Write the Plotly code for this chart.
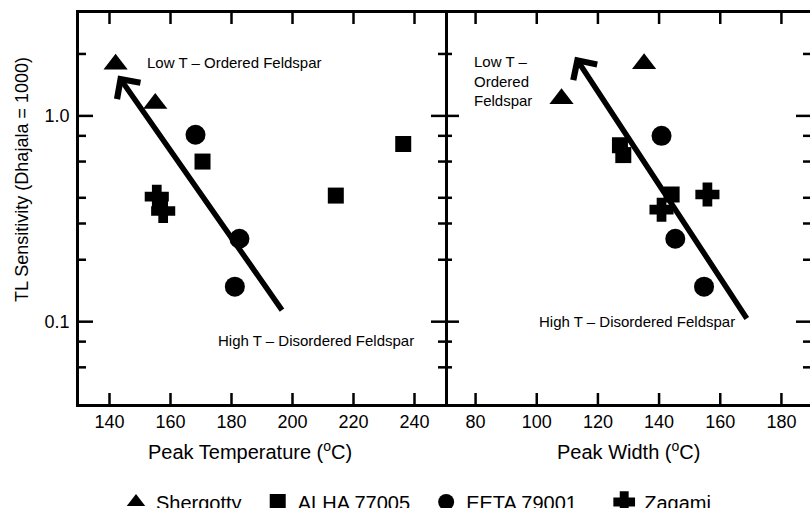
import plotly.graph_objects as go
import numpy as np

# ---------------- data ----------------
# Left panel: Peak Temperature (oC) vs TL sensitivity
shergotty_temp = [142, 155]
shergotty_sens_t = [1.78, 1.15]
alha_temp = [170.5, 214.2, 236.3]
alha_sens_t = [0.60, 0.41, 0.73]
eeta_temp = [168.2, 182.6, 181.1]
eeta_sens_t = [0.81, 0.253, 0.148]
zagami_temp = [155.5, 157.6]
zagami_sens_t = [0.405, 0.345]

# Right panel: Peak Width (oC) vs TL sensitivity
shergotty_width = [108.1, 135.1]
shergotty_sens_w = [1.21, 1.79]
alha_width = [127.2, 128.3, 144.1]
alha_sens_w = [0.72, 0.645, 0.415]
eeta_width = [140.8, 145.3, 154.7]
eeta_sens_w = [0.80, 0.253, 0.148]
zagami_width = [155.8, 140.8]
zagami_sens_w = [0.415, 0.35]

# trend arrows (tail -> head)
arrow_left_x = [196.9, 142.8]
arrow_left_y = [0.112, 1.57]
arrow_right_x = [169.0, 112.5]
arrow_right_y = [0.102, 1.94]

x_ticks_left = [140, 160, 180, 200, 220, 240]
x_ticks_right = [80, 100, 120, 140, 160, 180]
y_major = [0.1, 1.0]
y_major_text = ["0.1", "1.0"]
y_minor = [0.06, 0.08, 0.2, 0.3, 0.4, 0.6, 0.8, 2.0]

NB = "\u00a0\u00a0"
series = [
    ("Shergotty", "Shergotty" + NB, "triangle-up", 21, 0),
    ("ALHA 77005", "ALHA 77005" + NB, "square", 16, 0),
    ("EETA 79001", "EETA 79001" + NB + NB, "circle", 20, 0),
    ("Zagami", "Zagami", "cross", 18, 2.5),
]
left_data = [(shergotty_temp, shergotty_sens_t), (alha_temp, alha_sens_t),
             (eeta_temp, eeta_sens_t), (zagami_temp, zagami_sens_t)]
right_data = [(shergotty_width, shergotty_sens_w), (alha_width, alha_sens_w),
              (eeta_width, eeta_sens_w), (zagami_width, zagami_sens_w)]

FONT = "Liberation Sans, Arial, sans-serif"
W, H = 810, 508
ML, MR, MT, MB = 0, 0, 13, 104
x_left_px = (79, 445)
x_right_px = (445, 810)
TW = 2.5          # tick width
XT_LEN = 11       # x tick length
YMAJ_LEN, YMIN_LEN = 14, 7

fig = go.Figure()
for (name, label, sym, size, lw), (xs, ys) in zip(series, left_data):
    fig.add_trace(go.Scatter(x=xs, y=ys, mode="markers", name=label, legendgroup=name,
                             marker=dict(symbol=sym, size=size, color="black",
                                         line=dict(width=lw, color="black")),
                             xaxis="x", yaxis="y", showlegend=True))
for (name, label, sym, size, lw), (xs, ys) in zip(series, right_data):
    fig.add_trace(go.Scatter(x=xs, y=ys, mode="markers", name=label, legendgroup=name,
                             marker=dict(symbol=sym, size=size, color="black",
                                         line=dict(width=lw, color="black")),
                             xaxis="x2", yaxis="y2", showlegend=False))

yrange = [-1.4, 0.5]
common_x = dict(showline=True, linecolor="black", linewidth=2.5, ticks="",
                mirror=True, showgrid=False, zeroline=False,
                tickfont=dict(size=18, color="black", family=FONT))
fig.update_layout(
    width=W, height=H,
    margin=dict(l=ML, r=MR, t=MT, b=MB, autoexpand=False),
    paper_bgcolor="white", plot_bgcolor="white",
    font=dict(family=FONT, color="black"),
    xaxis=dict(domain=[x_left_px[0] / W, x_left_px[1] / W], range=[130, 250],
               tickvals=x_ticks_left, anchor="y", **common_x),
    xaxis2=dict(domain=[x_right_px[0] / W, 1.0],
                range=[70, 70 + 120 * (x_right_px[1] - x_right_px[0]) / 367],
                tickvals=x_ticks_right, anchor="y2", **common_x),
    yaxis=dict(type="log", range=yrange, anchor="x", domain=[0, 1],
               tickvals=y_major, ticktext=y_major_text, ticks="",
               showline=True, linecolor="black", linewidth=2.5, mirror=True,
               showgrid=False, zeroline=False, ticklabelstandoff=3,
               tickfont=dict(size=18, color="black", family=FONT)),
    yaxis2=dict(type="log", range=yrange, anchor="x2", domain=[0, 1],
                tickvals=y_major, ticks="", showline=False, mirror=False,
                showticklabels=False, showgrid=False, zeroline=False),
    legend=dict(orientation="h", x=116 / W, xanchor="left",
                y=(H - MB - 502) / (H - MT - MB), yanchor="middle",
                font=dict(size=20, color="black", family=FONT),
                bgcolor="rgba(0,0,0,0)", itemwidth=30, tracegroupgap=0),
    showlegend=True,
)

# ---- tick marks (pointing inward on every frame edge), at the tick values ----
shapes = []
tick_line = dict(color="black", width=TW)
for xref, vals in [("x", x_ticks_left), ("x2", x_ticks_right)]:
    for v in vals:
        for anchor, sgn in [(0, 1), (1, -1)]:  # bottom edge (up), top edge (down)
            shapes.append(dict(type="line", xref=xref, yref="paper", x0=v, x1=v,
                               ysizemode="pixel", yanchor=anchor, y0=0, y1=sgn * XT_LEN,
                               line=tick_line, layer="above"))
edges = [(x_left_px[0], 1), (x_left_px[1], -1), (x_right_px[0], 1), (x_right_px[1], -1)]
for vals, ln in [(y_major, YMAJ_LEN), (y_minor, YMIN_LEN)]:
    for v in vals:
        for epx, sgn in edges:
            # shapes on a log axis take data values here
            shapes.append(dict(type="line", xref="paper", yref="y", y0=v, y1=v,
                               xsizemode="pixel", xanchor=epx / W, x0=0, x1=sgn * ln,
                               line=tick_line, layer="above"))

plot_h = H - MT - MB
def px_to_paper_y(py):
    return (H - MB - py) / plot_h

annotations = []
# axis titles
annotations.append(dict(text="TL Sensitivity (Dhajala = 1000)", textangle=-90,
                        x=22 / W, y=px_to_paper_y(180), xref="paper", yref="paper",
                        showarrow=False, font=dict(size=18, family=FONT, color="black"),
                        xanchor="center", yanchor="middle"))
annotations.append(dict(text="Peak Temperature (<sup>o</sup>C)", x=249.5 / W,
                        y=px_to_paper_y(450), xref="paper", yref="paper", showarrow=False,
                        font=dict(size=20, family=FONT, color="black"),
                        xanchor="center", yanchor="middle"))
annotations.append(dict(text="Peak Width (<sup>o</sup>C)", x=628.5 / W,
                        y=px_to_paper_y(450), xref="paper", yref="paper", showarrow=False,
                        font=dict(size=20, family=FONT, color="black"),
                        xanchor="center", yanchor="middle"))
# region labels
lab_font = dict(size=15, family=FONT, color="black")
annotations.append(dict(text="Low T – Ordered Feldspar", x=151.7, y=np.log10(1.81),
                        xref="x", yref="y", showarrow=False, font=lab_font,
                        xanchor="left", yanchor="middle"))
annotations.append(dict(text="High T – Disordered Feldspar", x=175.0, y=np.log10(0.081),
                        xref="x", yref="y", showarrow=False, font=lab_font,
                        xanchor="left", yanchor="middle"))
annotations.append(dict(text="Low T –<br>Ordered<br>Feldspar", x=78.8, y=np.log10(1.47),
                        xref="x2", yref="y2", showarrow=False, font=lab_font,
                        xanchor="left", yanchor="middle", align="left"))
annotations.append(dict(text="High T – Disordered Feldspar", x=100.2, y=np.log10(0.1),
                        xref="x2", yref="y2", showarrow=False, font=lab_font,
                        xanchor="left", yanchor="middle"))
# trend arrows
for ax_, ay_, xr, yr in [(arrow_left_x, arrow_left_y, "x", "y"),
                         (arrow_right_x, arrow_right_y, "x2", "y2")]:
    annotations.append(dict(text="", x=ax_[1], y=np.log10(ay_[1]),
                            ax=ax_[0], ay=np.log10(ay_[0]),
                            xref=xr, yref=yr, axref=xr, ayref=yr,
                            showarrow=True, arrowhead=4, arrowwidth=5.5,
                            arrowsize=1.0, arrowcolor="black"))
fig.update_layout(annotations=annotations, shapes=shapes)

# remove the browser's default 8px page margin so the figure sits at (0, 0)
fig.write_html("out.html",
               config={"displayModeBar": False},
               post_script="document.body.style.margin='0';"
                           "document.documentElement.style.overflow='hidden';")
